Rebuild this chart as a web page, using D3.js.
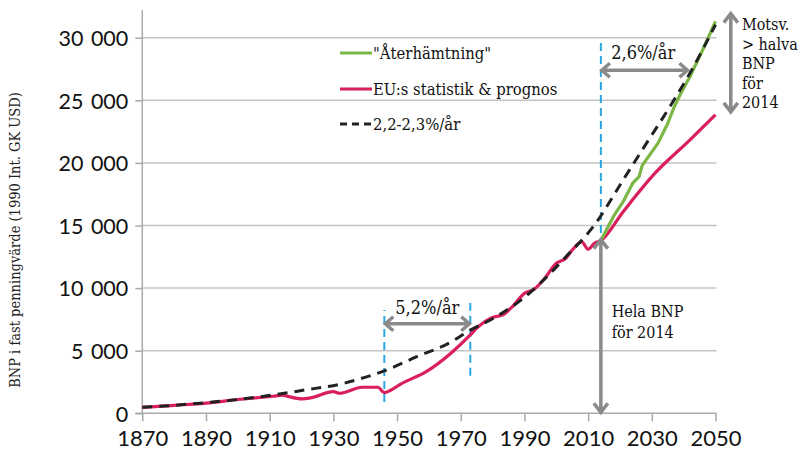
<!DOCTYPE html>
<html><head><meta charset="utf-8">
<script src="https://cdn.jsdelivr.net/npm/d3@7"></script>
<style>
html,body{margin:0;padding:0;background:#fff;}
.sans{font-family:Lato,"Open Sans",sans-serif;}
.slab{font-family:"DejaVu Serif Condensed","DejaVu Serif",serif;font-stretch:condensed;}
</style></head>
<body>
<svg id="c" width="800" height="452"></svg>
<script>
// ---- data ----
const xTicks = [1870,1890,1910,1930,1950,1970,1990,2010,2030,2050];
const yTicks = [0,5000,10000,15000,20000,25000,30000];

const euYears  = [1870,1880,1890,1900,1911,1914,1916,1920,1923,1930,1932,1939,1944,1946,1948,1951,1959,1967,1973,1975,1980,1983,1986,1990,1993,1996,2000,2003,2005,2008,2010,2012,2014,2021,2031,2042,2050];
const euValues = [480,640,820,1100,1360,1440,1330,1160,1240,1730,1600,2080,2080,1650,1840,2320,3300,4820,6260,6800,7660,7840,8460,9580,9900,10660,11980,12380,13040,13700,13100,13570,13800,16100,19180,21840,23840];

const recYears  = [2014,2018,2021,2024,2026,2027,2032,2035,2037,2039,2042,2046,2050];
const recValues = [13800,15740,16900,18380,18900,19800,21600,23150,24450,25500,26900,29040,31300];

const trendYears  = [1870,1880,1890,1900,1911,1921,1932,1942,1946,1956,1966,1973,1981,1989,1997,2003,2012,2021,2027,2037,2042,2050];
const trendValues = [480,640,850,1100,1460,1860,2320,3040,3390,4500,5570,6640,7700,9060,10900,12500,15040,18640,21040,25040,27180,31040];

const legendLabels = ['"Återhämtning"','EU:s statistik & prognos','2,2-2,3%/år'];

const C = {red:"#d91f5c", green:"#7cb646", dash:"#222", blue:"#2aa7e0", arrow:"#8a8a8a", grid:"#c4c4c4", axis:"#aaaaaa"};

// ---- scales ----
const svg = d3.select("#c");
const x = d3.scaleLinear().domain([1870,2050]).range([142.3,715.5]);
const y = d3.scaleLinear().domain([0,30000]).range([413.3,37.7]);

// gridlines
svg.append("g").selectAll("line").data(yTicks.filter(d=>d>0)).join("line")
  .attr("x1",x(1870)).attr("x2",x(2050)+1).attr("y1",d=>y(d)).attr("y2",d=>y(d))
  .attr("stroke",C.grid).attr("stroke-width",1.5);

// y axis
const yAxis = svg.append("g").attr("transform",`translate(${x(1870)},0)`)
  .call(d3.axisLeft(y).tickValues(yTicks).tickSize(7).tickPadding(7)
    .tickFormat(d=>d3.format(",")(d).replace(/,/g," ")));
yAxis.select(".domain").remove();
yAxis.selectAll(".tick line").attr("stroke",C.axis).attr("stroke-width",1.5);
yAxis.selectAll(".tick text").attr("class","sans").attr("font-size",21.5).attr("fill","#111")
  .style("word-spacing","2px").attr("dy","0.36em");
svg.append("line").attr("x1",x(1870)).attr("x2",x(1870)).attr("y1",10).attr("y2",y(0))
  .attr("stroke",C.axis).attr("stroke-width",1.5);

// x axis
const xAxis = svg.append("g").attr("transform",`translate(0,${y(0)})`)
  .call(d3.axisBottom(x).tickValues(xTicks).tickSize(8).tickPadding(9).tickFormat(d3.format("d")));
xAxis.select(".domain").remove();
xAxis.selectAll(".tick line").attr("stroke",C.axis).attr("stroke-width",1.5);
xAxis.selectAll(".tick text").attr("class","sans").attr("font-size",22).attr("fill","#111");
svg.append("line").attr("x1",x(1870)-7).attr("x2",x(2050)+1).attr("y1",y(0)).attr("y2",y(0))
  .attr("stroke",C.axis).attr("stroke-width",1.5);

// y label
svg.append("text").attr("class","slab").attr("font-size",14.5).attr("fill","#222")
  .attr("text-anchor","middle").attr("transform","translate(20,240) rotate(-90)")
  .text("BNP i fast penningvärde (1990 Int. GK USD)");

// blue dashed markers
const blue = [[1946,900,8250],[1973,3000,8800],[2014,14400,30000]];
svg.append("g").selectAll("line").data(blue).join("line")
  .attr("x1",d=>x(d[0])).attr("x2",d=>x(d[0])).attr("y1",d=>y(d[1])).attr("y2",d=>y(d[2]))
  .attr("stroke",C.blue).attr("stroke-width",2).attr("stroke-dasharray","8,5");

// lines
const line = d3.line().x(d=>x(d[0])).y(d=>y(d[1])).curve(d3.curveMonotoneX);
svg.append("path").datum(d3.zip(euYears,euValues)).attr("d",line)
  .attr("fill","none").attr("stroke",C.red).attr("stroke-width",3.2).attr("stroke-linejoin","round");
svg.append("path").datum(d3.zip(recYears,recValues)).attr("d",line.curve(d3.curveLinear))
  .attr("fill","none").attr("stroke",C.green).attr("stroke-width",3.2).attr("stroke-linejoin","round");
svg.append("path").datum(d3.zip(trendYears,trendValues)).attr("d",line.curve(d3.curveMonotoneX))
  .attr("fill","none").attr("stroke",C.dash).attr("stroke-width",3).attr("stroke-dasharray","10,7");

// arrows
function hArrow(x1,x2,yy){
  const a=9,b=7;
  svg.append("path").attr("d",`M${x1},${yy}H${x2}M${x1+a},${yy-b}L${x1+1},${yy}L${x1+a},${yy+b}M${x2-a},${yy-b}L${x2-1},${yy}L${x2-a},${yy+b}`)
    .attr("fill","none").attr("stroke",C.arrow).attr("stroke-width",3.5).attr("stroke-linecap","butt");
}
function vArrow(xx,y1,y2){
  const a=10,b=7;
  svg.append("path").attr("d",`M${xx},${y1}V${y2}M${xx-b},${y1+a}L${xx},${y1+1}L${xx+b},${y1+a}M${xx-b},${y2-a}L${xx},${y2-1}L${xx+b},${y2-a}`)
    .attr("fill","none").attr("stroke",C.arrow).attr("stroke-width",3.5);
}
hArrow(x(1946),x(1973),y(7150));
hArrow(x(2014),x(2041.5),y(27400));
vArrow(x(2054.8),y(32000),y(24000));
vArrow(x(2014),y(13950),y(0));

// annotation text
svg.append("text").attr("class","slab").attr("font-size",18).attr("fill","#111")
  .attr("text-anchor","middle").attr("x",x(1959.5)).attr("y",y(7940)).text("5,2%/år");
svg.append("text").attr("class","slab").attr("font-size",18).attr("fill","#111")
  .attr("text-anchor","middle").attr("x",x(2027.3)).attr("y",y(28260)).text("2,6%/år");
const mot = ["Motsv.","> halva","BNP","för","2014"];
svg.append("g").selectAll("text").data(mot).join("text").attr("class","slab")
  .attr("font-size",16).attr("fill","#111").attr("x",x(2058.3))
  .attr("y",(d,i)=>30+i*19.5).text(d=>d);
const hela = ["Hela BNP","för 2014"];
svg.append("g").selectAll("text").data(hela).join("text").attr("class","slab")
  .attr("font-size",16).attr("fill","#111").attr("x",x(2017.4))
  .attr("y",(d,i)=>317+i*21).text(d=>d);

// legend
const lg = svg.append("g");
const ly = [53,89,124];
lg.append("line").attr("x1",340).attr("x2",372).attr("y1",ly[0]).attr("y2",ly[0]).attr("stroke",C.green).attr("stroke-width",3);
lg.append("line").attr("x1",340).attr("x2",372).attr("y1",ly[1]).attr("y2",ly[1]).attr("stroke",C.red).attr("stroke-width",3);
lg.append("line").attr("x1",340).attr("x2",372).attr("y1",ly[2]).attr("y2",ly[2]).attr("stroke",C.dash).attr("stroke-width",3).attr("stroke-dasharray","7,5");
lg.selectAll("text").data(legendLabels).join("text").attr("class","slab")
  .attr("font-size",16.5).attr("fill","#111").attr("x",373).attr("y",(d,i)=>ly[i]+5.5).text(d=>d);
</script>
</body></html>
